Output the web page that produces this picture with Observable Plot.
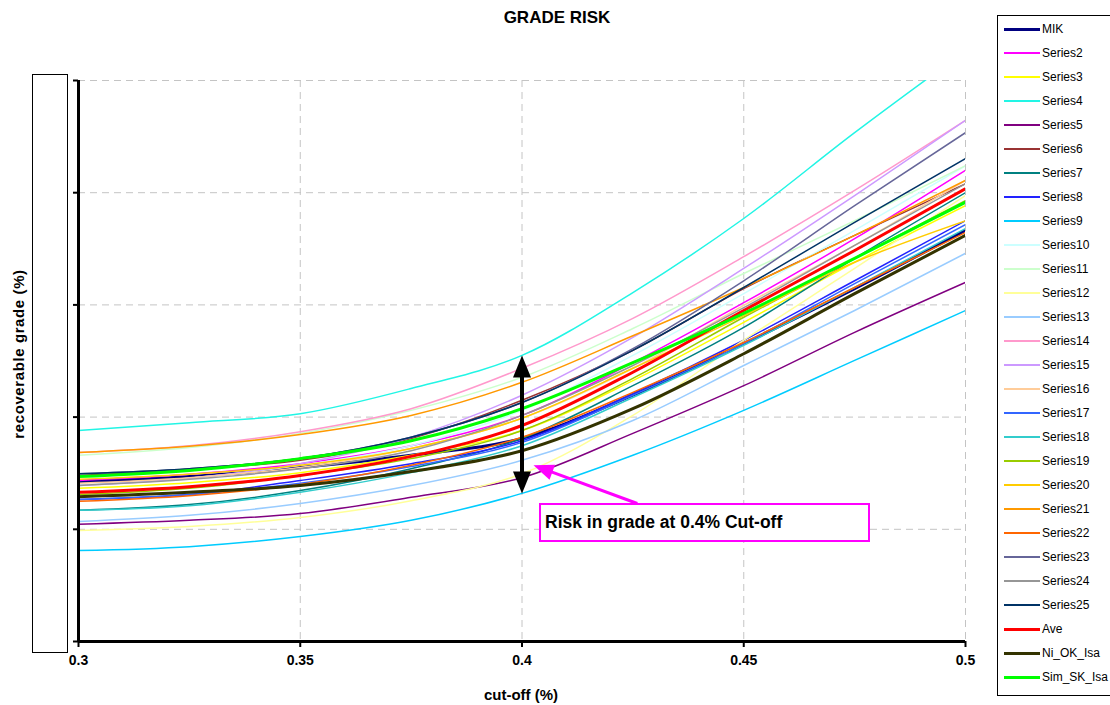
<!DOCTYPE html>
<html>
<head>
<meta charset="utf-8">
<script src="https://cdn.jsdelivr.net/npm/d3@7"></script>
<script src="https://cdn.jsdelivr.net/npm/@observablehq/plot@0.6"></script>
<style>
  body { margin: 0; background: #fff; font-family: Arial, "Liberation Sans", sans-serif; }
  #wrap { position: relative; width: 1110px; height: 705px; overflow: hidden; background: #fff; }
  #chart { position: absolute; left: 0; top: 0; }
  .title { position: absolute; left: 0; width: 1114px; top: 8px; text-align: center; font-weight: bold; font-size: 17px; }
  .ytitle { position: absolute; left: 18px; top: 354px; transform: translate(-50%, -50%) rotate(-90deg); white-space: nowrap; font-weight: bold; font-size: 15px; letter-spacing: 0.6px; }
  .xtitle { position: absolute; left: 521px; top: 694px; transform: translate(-50%, -50%); white-space: nowrap; font-weight: bold; font-size: 15px; }
  .ybox { position: absolute; left: 32px; top: 74px; width: 34px; height: 577px; border: 1px solid #000; background: #fff; }
  .legend { position: absolute; left: 997px; top: 15px; width: 130px; height: 679px; border: 1px solid #000; background: #fff; }
  .li { position: absolute; left: 6px; height: 16px; display: flex; align-items: center; font-size: 12px; white-space: nowrap; }
  .sw { width: 36px; margin-right: 2px; }
  .callout { position: absolute; left: 539px; top: 503px; width: 323px; height: 35px; border: 2px solid #FF00FF; background: #fff; font-weight: bold; font-size: 17.5px; line-height: 35px; padding-left: 4px; box-sizing: content-box; white-space: nowrap; }
</style>
</head>
<body>
<div id="wrap"></div>
<script>
// ---- data ----
const cutoffs = [0.30, 0.325, 0.35, 0.375, 0.40, 0.425, 0.45, 0.475, 0.50];
const xTicks = [0.3, 0.35, 0.4, 0.45, 0.5];
const yTicks = [0.6, 0.8, 1.0, 1.2, 1.4, 1.6];

const MIK      = [0.885, 0.894, 0.910, 0.932, 0.962, 1.039, 1.131, 1.229, 1.333];
const Series2  = [0.887, 0.898, 0.917, 0.949, 1.003, 1.097, 1.204, 1.318, 1.440];
const Series3  = [0.873, 0.883, 0.901, 0.932, 0.976, 1.065, 1.169, 1.276, 1.377];
const Series4  = [0.976, 0.990, 1.006, 1.051, 1.110, 1.222, 1.354, 1.507, 1.653];
const Series5  = [0.809, 0.816, 0.828, 0.857, 0.892, 0.971, 1.056, 1.151, 1.240];
const Series6  = [0.896, 0.907, 0.923, 0.962, 1.030, 1.119, 1.229, 1.324, 1.416];
const Series7  = [0.834, 0.844, 0.869, 0.908, 0.962, 1.056, 1.160, 1.283, 1.400];
const Series8  = [0.853, 0.862, 0.887, 0.917, 0.958, 1.042, 1.137, 1.243, 1.350];
const Series9  = [0.762, 0.769, 0.787, 0.816, 0.864, 0.932, 1.012, 1.101, 1.190];
const Series10 = [0.878, 0.891, 0.914, 0.949, 1.012, 1.110, 1.220, 1.333, 1.448];
const Series11 = [0.932, 0.946, 0.971, 1.012, 1.071, 1.158, 1.256, 1.350, 1.448];
const Series12 = [0.798, 0.805, 0.821, 0.851, 0.899, 1.003, 1.137, 1.265, 1.395];
const Series13 = [0.814, 0.825, 0.846, 0.878, 0.923, 0.994, 1.092, 1.190, 1.292];
const Series14 = [0.937, 0.949, 0.974, 1.015, 1.087, 1.176, 1.286, 1.404, 1.529];
const Series15 = [0.878, 0.891, 0.917, 0.964, 1.039, 1.142, 1.265, 1.395, 1.529];
const Series16 = [0.882, 0.892, 0.910, 0.944, 0.998, 1.087, 1.199, 1.306, 1.422];
const Series17 = [0.853, 0.862, 0.882, 0.912, 0.955, 1.039, 1.131, 1.238, 1.343];
const Series18 = [0.834, 0.842, 0.866, 0.901, 0.949, 1.035, 1.128, 1.231, 1.336];
const Series19 = [0.862, 0.873, 0.896, 0.926, 0.976, 1.069, 1.178, 1.283, 1.386];
const Series20 = [0.889, 0.898, 0.914, 0.944, 0.998, 1.087, 1.181, 1.276, 1.350];
const Series21 = [0.937, 0.948, 0.969, 1.003, 1.062, 1.145, 1.231, 1.324, 1.422];
const Series22 = [0.850, 0.860, 0.880, 0.914, 0.964, 1.044, 1.133, 1.231, 1.329];
const Series23 = [0.899, 0.908, 0.926, 0.964, 1.026, 1.122, 1.243, 1.377, 1.507];
const Series24 = [0.878, 0.889, 0.908, 0.940, 1.003, 1.092, 1.195, 1.306, 1.416];
const Series25 = [0.899, 0.908, 0.926, 0.964, 1.026, 1.119, 1.231, 1.347, 1.461];
const Ave      = [0.866, 0.876, 0.896, 0.930, 0.985, 1.080, 1.190, 1.297, 1.407];
const Ni_OK_Isa  = [0.858, 0.866, 0.878, 0.903, 0.940, 1.015, 1.113, 1.220, 1.324];
const Sim_SK_Isa = [0.894, 0.905, 0.926, 0.958, 1.015, 1.097, 1.185, 1.283, 1.383];

const seriesNames = ["MIK","Series2","Series3","Series4","Series5","Series6","Series7","Series8","Series9","Series10",
  "Series11","Series12","Series13","Series14","Series15","Series16","Series17","Series18","Series19","Series20",
  "Series21","Series22","Series23","Series24","Series25","Ave","Ni_OK_Isa","Sim_SK_Isa"];
const seriesValues = [MIK,Series2,Series3,Series4,Series5,Series6,Series7,Series8,Series9,Series10,
  Series11,Series12,Series13,Series14,Series15,Series16,Series17,Series18,Series19,Series20,
  Series21,Series22,Series23,Series24,Series25,Ave,Ni_OK_Isa,Sim_SK_Isa];
const seriesColors = ["#000080","#FF00FF","#FFFF00","#22F5E5","#800080","#993333","#008080","#2222FF","#00CCFF","#CCFFFF",
  "#CCFFCC","#FFFF99","#99CCFF","#FF99CC","#CC99FF","#FFCC99","#3366FF","#33CCCC","#99CC00","#FFCC00",
  "#FF9900","#FF6600","#666699","#969696","#003366","#FF0000","#333300","#00FF00"];
const seriesWidths = [3,1.5,1.5,1.5,1.5,1.5,1.5,1.5,1.5,1.5,1.5,1.5,1.5,1.5,1.5,1.5,1.5,1.5,1.5,1.5,1.5,1.5,1.5,1.5,1.5,3,3,3];
const legendWidths = [3,2,2,2,2,2,2,2,2,2,2,2,2,2,2,2,2,2,2,2,2,2,2,2,2,3,3,3];

const riskCutoff = 0.4;
const calloutText = "Risk in grade at 0.4% Cut-off";
const calloutFrom = [0.426, 0.846];
const calloutTo = [0.4026, 0.914];

// ---- layout ----
const W = 990, H = 705, mL = 78, mR = 25, mT = 80, mB = 64;
const pxPerX = (W - mL - mR) / (cutoffs[cutoffs.length - 1] - cutoffs[0]);
const pxPerY = (H - mT - mB) / (yTicks[yTicks.length - 1] - yTicks[0]);

const rows = seriesNames.map((name, i) => cutoffs.map((c, j) => ({name, cutoff: c, grade: seriesValues[i][j]})));

// risk arrow from data at the 0.4 cut-off
const ri = cutoffs.indexOf(riskCutoff);
const atRisk = seriesValues.map(v => v[ri]);
const riskTop = d3.max(atRisk), riskBot = d3.min(atRisk);
const headLen = 22;
const inset = 12 / pxPerY;

const blackHead = {draw(ctx) { ctx.moveTo(0, 0); ctx.lineTo(-9, headLen); ctx.lineTo(9, headLen); ctx.closePath(); }};
const pinkHead = {draw(ctx) { ctx.moveTo(0, 0); ctx.lineTo(-8, 20); ctx.lineTo(8, 20); ctx.closePath(); }};

const cdx = (calloutTo[0] - calloutFrom[0]) * pxPerX;
const cdy = -(calloutTo[1] - calloutFrom[1]) * pxPerY;
const cang = Math.atan2(cdx, -cdy) * 180 / Math.PI;
const clen = Math.hypot(cdx, cdy);
const shrink = (clen - 14) / clen;
const calloutShaftEnd = [calloutFrom[0] + (calloutTo[0] - calloutFrom[0]) * shrink, calloutFrom[1] + (calloutTo[1] - calloutFrom[1]) * shrink];

const dash = "7,5";
const marks = [
  Plot.ruleY(yTicks.slice(1), {stroke: "#c4c4c4", strokeDasharray: dash, strokeWidth: 1}),
  Plot.ruleX(xTicks.slice(1), {stroke: "#c4c4c4", strokeDasharray: dash, strokeWidth: 1})
];
rows.forEach((r, i) => {
  marks.push(Plot.line(r, {x: "cutoff", y: "grade", stroke: seriesColors[i], strokeWidth: seriesWidths[i], curve: "monotone-x", clip: true}));
});
marks.push(
  Plot.ruleX([cutoffs[0]], {stroke: "#000", strokeWidth: 3, y1: yTicks[0], y2: yTicks[yTicks.length - 1]}),
  Plot.ruleY([yTicks[0]], {stroke: "#000", strokeWidth: 3}),
  Plot.ruleX([riskCutoff], {y1: riskBot + inset, y2: riskTop - inset, stroke: "#000", strokeWidth: 4}),
  Plot.dot([{x: riskCutoff, y: riskTop, r: 0}, {x: riskCutoff, y: riskBot, r: 180}], {x: "x", y: "y", rotate: "r", symbol: blackHead, fill: "#000", stroke: "none", r: 6}),
  Plot.link([{}], {x1: () => calloutFrom[0], y1: () => calloutFrom[1], x2: () => calloutShaftEnd[0], y2: () => calloutShaftEnd[1], stroke: "#FF00FF", strokeWidth: 3}),
  Plot.dot([{x: calloutTo[0], y: calloutTo[1]}], {x: "x", y: "y", rotate: cang, symbol: pinkHead, fill: "#FF00FF", stroke: "none", r: 6})
);

const chart = Plot.plot({
  width: W, height: H,
  marginLeft: mL, marginRight: mR, marginTop: mT, marginBottom: mB,
  x: {domain: [cutoffs[0], cutoffs[cutoffs.length - 1]], ticks: xTicks, tickFormat: d => String(d), tickSize: 6, tickPadding: 8, label: null},
  y: {domain: [yTicks[0], yTicks[yTicks.length - 1]], ticks: yTicks, tickFormat: () => "", tickSize: 5, label: null},
  style: {fontFamily: "Arial, 'Liberation Sans', sans-serif", fontSize: "14px", fontWeight: "bold", color: "#000", background: "transparent", overflow: "visible"},
  marks
});
chart.id = "chart";
chart.querySelectorAll('g[aria-label^="x-axis"], g[aria-label^="y-axis"]').forEach(g => {
  g.setAttribute("stroke-width", 2);
  g.setAttribute("font-size", 14);
  g.setAttribute("font-weight", "bold");
});

const wrap = document.getElementById("wrap");
wrap.appendChild(chart);

function addDiv(cls, text) { const d = document.createElement("div"); d.className = cls; if (text) d.textContent = text; wrap.appendChild(d); return d; }
addDiv("title", "GRADE RISK");
addDiv("ybox");
addDiv("ytitle", "recoverable grade (%)");
addDiv("xtitle", "cut-off (%)");
addDiv("callout", calloutText);

const legend = addDiv("legend");
seriesNames.forEach((name, i) => {
  const it = document.createElement("div");
  it.className = "li";
  it.style.top = (28 + 24 * i - 15 - 8) + "px";
  const sw = document.createElement("div");
  sw.className = "sw";
  sw.style.height = legendWidths[i] + "px";
  sw.style.background = seriesColors[i];
  it.appendChild(sw);
  const t = document.createElement("span");
  t.textContent = name;
  it.appendChild(t);
  legend.appendChild(it);
});
</script>
</body>
</html>
